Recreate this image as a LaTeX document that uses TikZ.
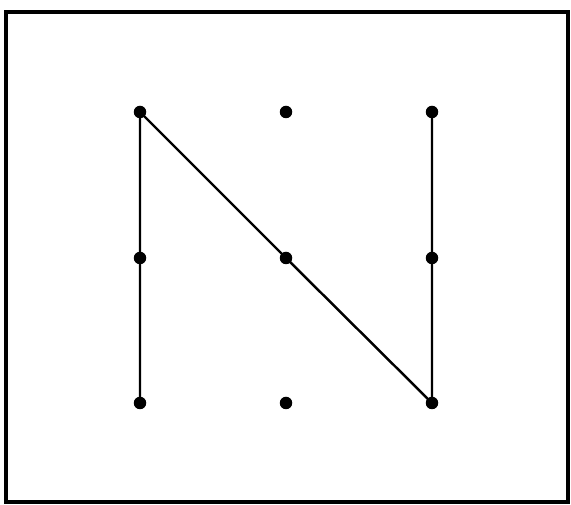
\documentclass[tikz,border=0pt]{standalone}
\usepackage{tikz}

\begin{document}
\begin{tikzpicture}[every node/.style={circle, fill=black, inner sep=0pt, minimum size=0.25cm}]
\useasboundingbox (0,0) rectangle (11.42,10.1);
\draw[line width=2.2pt] (0.12,0.06) rectangle (11.36,9.86);
\node (TL) at (2.8,7.86) {};
\node (TM) at (5.72,7.86) {};
\node (TR) at (8.64,7.86) {};
\node (ML) at (2.8,4.94) {};
\node (MM) at (5.72,4.94) {};
\node (MR) at (8.64,4.94) {};
\node (BL) at (2.8,2.04) {};
\node (BM) at (5.72,2.04) {};
\node (BR) at (8.64,2.04) {};
\draw[line width=1.4pt] (BL.center) -- (ML.center) -- (TL.center) -- (MM.center) -- (BR.center) -- (MR.center) -- (TR.center);
\end{tikzpicture}
\end{document}
